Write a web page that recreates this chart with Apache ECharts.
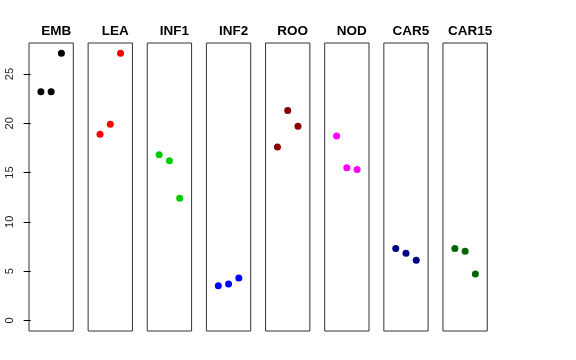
<!DOCTYPE html>
<html><head><meta charset="utf-8">
<script src="https://cdn.jsdelivr.net/npm/echarts@6/dist/echarts.min.js"></script>
<style>html,body{margin:0;padding:0;background:#fff}#c{width:576px;height:360px}</style>
</head><body><div id="c"></div>
<script>
var categories = ["EMB","LEA","INF1","INF2","ROO","NOD","CAR5","CAR15"];
var colors = ["#000000","#FF0000","#00CD00","#0000FF","#8B0000","#FF00FF","#000080","#006400"];
var EMB = [23.2, 23.2, 27.1];
var LEA = [18.9, 19.9, 27.1];
var INF1 = [16.8, 16.2, 12.4];
var INF2 = [3.5, 3.7, 4.3];
var ROO = [17.6, 21.3, 19.7];
var NOD = [18.7, 15.5, 15.3];
var CAR5 = [7.3, 6.8, 6.1];
var CAR15 = [7.3, 7.0, 4.7];
var yTicks = [0, 5, 10, 15, 20, 25];
var seriesValues = [EMB, LEA, INF1, INF2, ROO, NOD, CAR5, CAR15];

var yMin = -1.083, yMax = 28.15;
var grids = [], xAxes = [], yAxes = [], series = [], titles = [];
for (var i = 0; i < categories.length; i++) {
  var left = 29 + 59.14 * i;
  grids.push({left: left, top: 43, width: 44.3, height: 288, show: true,
    borderColor: '#333', borderWidth: 1, backgroundColor: 'transparent'});
  xAxes.push({type: 'value', gridIndex: i, min: -0.16, max: 4.16, show: false});
  yAxes.push({type: 'value', gridIndex: i, min: yMin, max: yMax, show: i === 0,
    splitLine: {show: false},
    axisLine: {show: false},
    axisTick: {show: true, length: 7, lineStyle: {color: '#000'}, customValues: yTicks},
    axisLabel: {show: true, rotate: 90, margin: 14, fontSize: 11, color: '#222',
      fontFamily: 'Liberation Sans, Arial, sans-serif', customValues: yTicks}
  });
  var vals = seriesValues[i];
  series.push({type: 'scatter', xAxisIndex: i, yAxisIndex: i, symbol: 'circle', symbolSize: 7,
    itemStyle: {color: colors[i], opacity: 1},
    data: vals.map(function (v, k) { return [k + 1, v]; })});
  titles.push({text: categories[i], left: left + 22.15, top: 19, textAlign: 'center',
    textStyle: {fontSize: 13.5, fontWeight: 'bold', color: '#000', fontFamily: 'Liberation Sans, Arial, sans-serif'}});
}
var chart = echarts.init(document.getElementById('c'), null, {renderer: 'canvas'});
chart.setOption({animation: false, backgroundColor: '#fff', title: titles, grid: grids,
  xAxis: xAxes, yAxis: yAxes, series: series});
</script></body></html>
